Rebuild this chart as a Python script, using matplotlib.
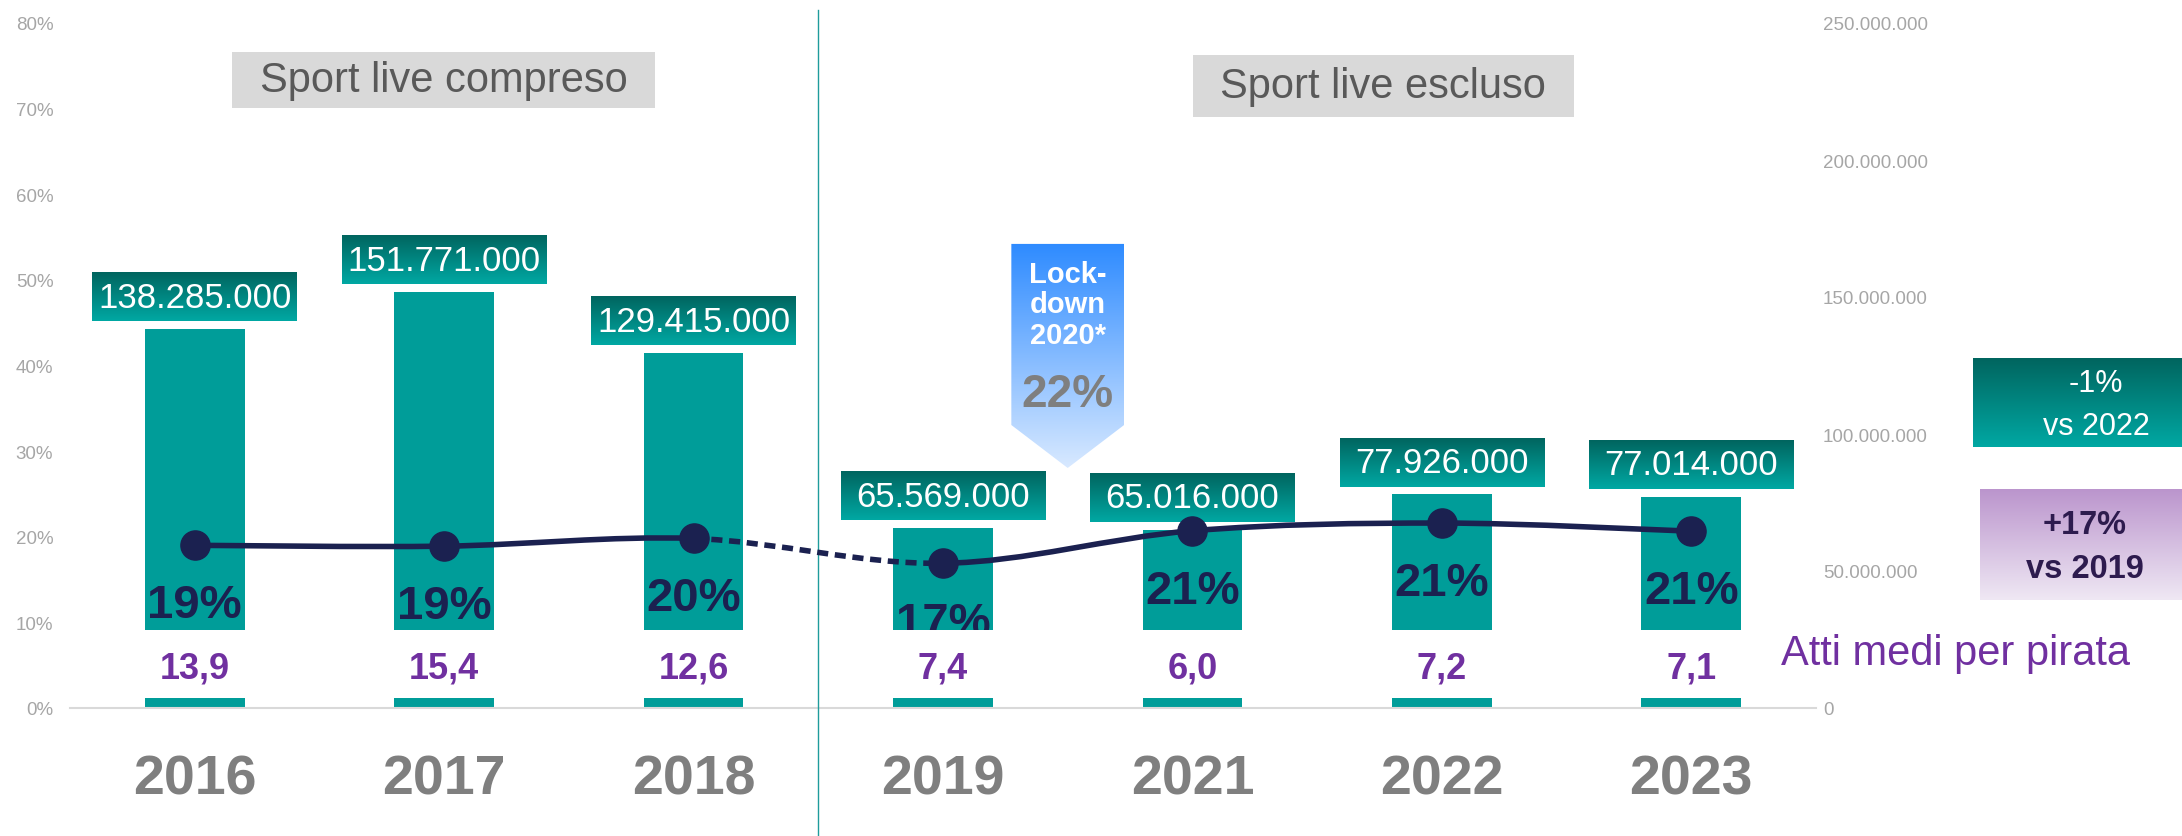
import numpy as np
import matplotlib
matplotlib.use("Agg")
import matplotlib.pyplot as plt
from matplotlib.path import Path
from matplotlib.patches import PathPatch, Polygon, Rectangle
from matplotlib.colors import to_rgb
from matplotlib.ticker import FuncFormatter

plt.rcParams['font.family'] = ['Liberation Sans', 'DejaVu Sans']

# dati
anni = ['2016', '2017', '2018', '2019', '2021', '2022', '2023']
atti_pirateria = [138285000, 151771000, 129415000, 65569000, 65016000, 77926000, 77014000]
quota_pirati = [0.190, 0.189, 0.198, 0.169, 0.207, 0.216, 0.2065]
quota_labels = ['19%', '19%', '20%', '17%', '21%', '21%', '21%']
atti_medi = ['13,9', '15,4', '12,6', '7,4', '6,0', '7,2', '7,1']
lockdown_label = '22%'

teal = '#009D99'
navy = '#1B2150'
purple = '#7030A0'
grey_tick = '#A6A6A6'


def gradient(ax, extent, top, bottom, zorder, clip=None):
    c0, c1 = np.array(to_rgb(top)), np.array(to_rgb(bottom))
    t = np.linspace(0, 1, 128)[:, None, None]
    img = c0 * (1 - t) + c1 * t
    im = ax.imshow(img, extent=extent, aspect='auto', origin='upper',
                   zorder=zorder, interpolation='bilinear')
    if clip is not None:
        im.set_clip_path(clip)
    return im


fig = plt.figure(figsize=(21.82, 8.37), dpi=100, facecolor='white')
rect = [70 / 2182, 1 - 709 / 837, 1746 / 2182, 685 / 837]
ax_bar = fig.add_axes(rect)
ax_line = fig.add_axes(rect)
ax_line.set_facecolor('none')

x = np.arange(len(anni))

# barre (asse destro)
ax_bar.bar(x, atti_pirateria, width=0.4, color=teal, zorder=2)
gap, hbox = 2.9e6, 17.6e6
for i, v in enumerate(atti_pirateria):
    gradient(ax_bar, (i - 0.41, i + 0.41, v + gap, v + gap + hbox),
             '#00655F', '#00A8A3', zorder=3)
    ax_bar.text(i, v + gap + hbox / 2, f"{v:,}".replace(',', '.'),
                ha='center', va='center', color='white', fontsize=25, zorder=4)

ax_bar.set_xlim(-0.5, len(anni) - 0.5)
ax_bar.set_ylim(0, 250e6)
ax_bar.yaxis.tick_right()
ax_bar.set_yticks(np.arange(0, 250e6 + 1, 50e6))
ax_bar.yaxis.set_major_formatter(FuncFormatter(lambda v, p: f"{int(v):,}".replace(',', '.')))
ax_bar.tick_params(axis='y', length=0, pad=5, labelsize=13.5, labelcolor=grey_tick)
ax_bar.set_xticks([])
for s in ax_bar.spines.values():
    s.set_visible(False)

# linea smussata (asse sinistro)
pts = np.column_stack([x, quota_pirati])
n = len(pts)


def bezier(i):
    p0, p1, p2, p3 = pts[max(i - 1, 0)], pts[i], pts[i + 1], pts[min(i + 2, n - 1)]
    return p1 + (p2 - p0) / 6, p2 - (p3 - p1) / 6, p2


def make_path(segs):
    verts, codes = [pts[segs[0]]], [Path.MOVETO]
    for i in segs:
        c1, c2, p2 = bezier(i)
        verts += [c1, c2, p2]
        codes += [Path.CURVE4] * 3
    return Path(verts, codes)


for segs, ls in [([0, 1], '-'), ([3, 4, 5], '-'), ([2], (0, (2.0, 1.2)))]:
    ax_line.add_patch(PathPatch(make_path(segs), fill=False, edgecolor=navy,
                                lw=4, linestyle=ls, capstyle='butt', zorder=5))
ax_line.plot(x, quota_pirati, 'o', ms=21, color=navy, zorder=6)

for i, (q, lab) in enumerate(zip(quota_pirati, quota_labels)):
    ax_line.annotate(lab, (i, q), xytext=(0, -60), textcoords='offset pixels',
                     ha='center', va='center', fontsize=34, fontweight='bold',
                     color=navy, zorder=3)

# fascia bianca con atti medi
ax_line.axhspan(0.0114, 0.091, facecolor='white', edgecolor='none', zorder=3.5)
for i, a in enumerate(atti_medi):
    ax_line.text(i, 0.047, a, ha='center', va='center', fontsize=26,
                 fontweight='bold', color=purple, zorder=4)

# separatore
ax_line.axvline(2.5, ymin=-0.19, ymax=1.019, clip_on=False, color='#1F9C9C',
                lw=1, zorder=4)

# freccia lockdown
cx, hw = 3.5, 0.226
arrow = Polygon([(cx - hw, 0.542), (cx + hw, 0.542), (cx + hw, 0.3305),
                 (cx, 0.2803), (cx - hw, 0.3305)], closed=True,
                facecolor='none', edgecolor='none', transform=ax_line.transData)
ax_line.add_patch(arrow)
gradient(ax_line, (cx - hw, cx + hw, 0.2803, 0.542), '#2E8BFF', '#D8E9FF',
         zorder=4, clip=arrow)
ax_line.text(cx, 0.4713, 'Lock-\ndown\n2020*', ha='center', va='center',
             fontsize=21, fontweight='bold', color='white', linespacing=1.12, zorder=5)
ax_line.text(cx, 0.3667, lockdown_label, ha='center', va='center', fontsize=33,
             fontweight='bold', color='#7F7F7F', zorder=5)

ax_line.set_xlim(-0.5, len(anni) - 0.5)
ax_line.set_ylim(0, 0.8)
ax_line.set_yticks(np.arange(0, 0.81, 0.1))
ax_line.yaxis.set_major_formatter(FuncFormatter(lambda v, p: f"{v * 100:.0f}%"))
ax_line.tick_params(axis='y', length=0, pad=12, labelsize=13.5, labelcolor=grey_tick)
ax_line.set_xticks(x)
ax_line.set_xticklabels(anni, fontsize=40, fontweight='bold', color='#7F7F7F')
ax_line.tick_params(axis='x', length=0, pad=33)
for k, s in ax_line.spines.items():
    s.set_visible(k == 'bottom')
ax_line.spines['bottom'].set_color('#D9D9D9')
ax_line.spines['bottom'].set_linewidth(1.5)

# riquadri a livello di figura (coordinate in pixel)
ov = fig.add_axes([0, 0, 1, 1])
ov.axis('off')
ov.add_patch(Rectangle((232, 53), 423, 55.5, facecolor='#D9D9D9', edgecolor='none'))
ov.text(443.5, 81, 'Sport live compreso', ha='center', va='center',
        fontsize=30, color='#595959')
ov.add_patch(Rectangle((1193, 56), 381, 62, facecolor='#D9D9D9', edgecolor='none'))
ov.text(1383, 87, 'Sport live escluso', ha='center', va='center',
        fontsize=30, color='#595959')

gradient(ov, (1973, 2182, 448, 359), '#00655F', '#00A8A3', zorder=2)
ov.text(2096, 384, '-1%', ha='center', va='center', fontsize=22, color='white', zorder=3)
ov.text(2096, 427, 'vs 2022', ha='center', va='center', fontsize=22, color='white', zorder=3)

gradient(ov, (1980, 2182, 601, 490), '#BB95CD', '#EFE8F4', zorder=2)
ov.text(2085, 526, '+17%', ha='center', va='center', fontsize=23.5,
        fontweight='bold', color='#2D1B4E', zorder=3)
ov.text(2085, 569, 'vs 2019', ha='center', va='center', fontsize=23.5,
        fontweight='bold', color='#2D1B4E', zorder=3)

ov.text(1781, 654, 'Atti medi per pirata', ha='left', va='center',
        fontsize=30, color=purple)
ov.set_xlim(0, 2182)
ov.set_ylim(837, 0)

fig.savefig('out.png', dpi=100, facecolor='white')
